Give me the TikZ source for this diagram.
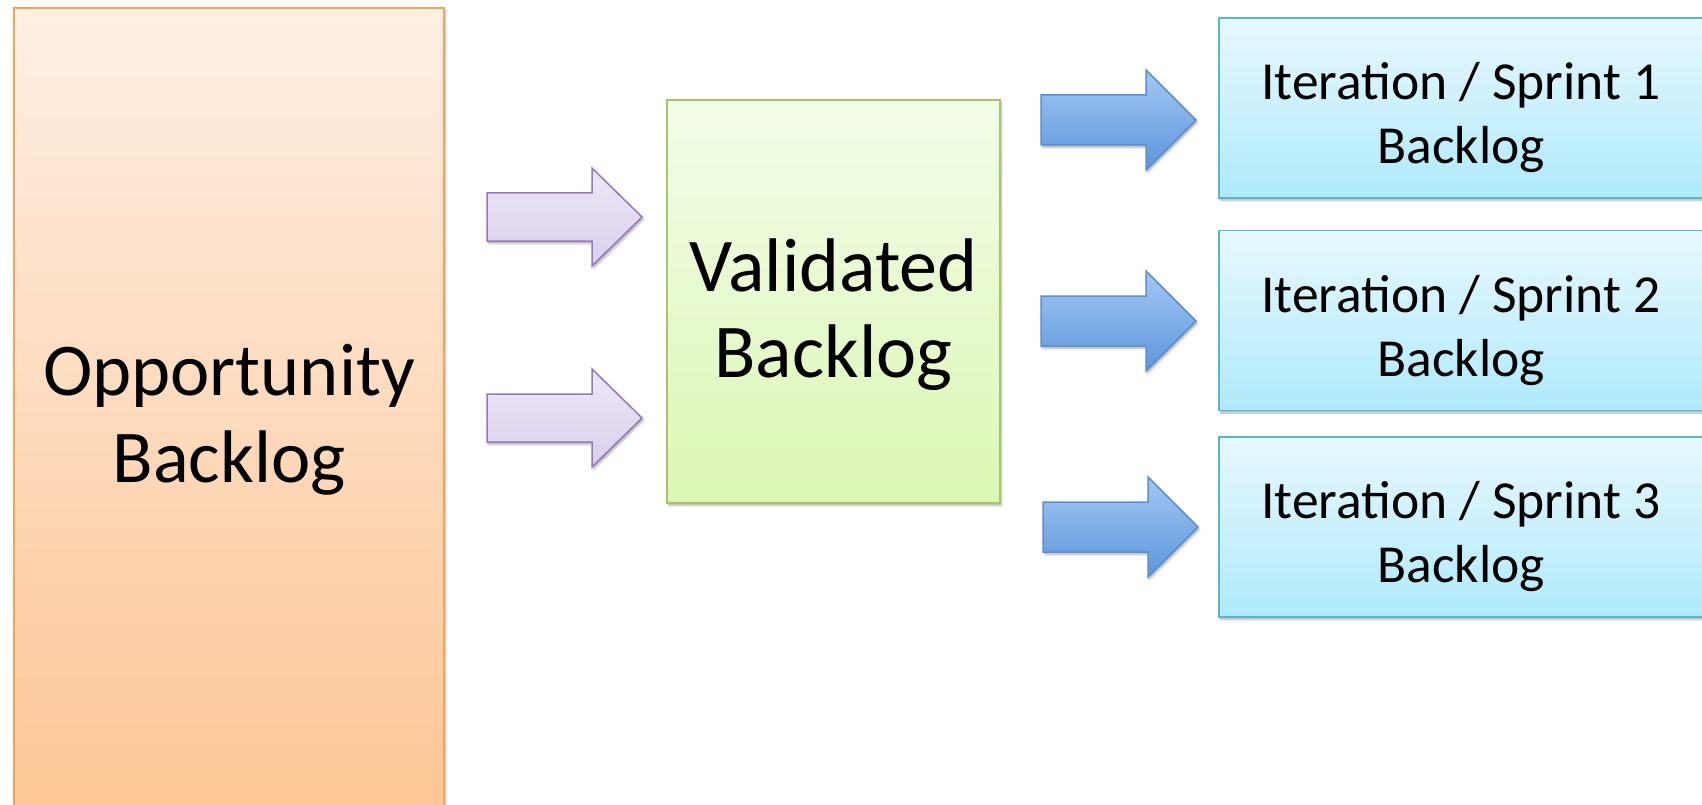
\documentclass[tikz,border=0pt]{standalone}
\usepackage{fontspec}
\setmainfont{Carlito}
\usetikzlibrary{calc,shadows.blur}

\definecolor{oppTop}{HTML}{FEEFE4}
\definecolor{oppBot}{HTML}{FDC593}
\definecolor{oppLine}{HTML}{F7A255}
\definecolor{valTop}{HTML}{F3FCEA}
\definecolor{valBot}{HTML}{DCF7B3}
\definecolor{valLine}{HTML}{A3C764}
\definecolor{itTop}{HTML}{E7F8FE}
\definecolor{itBot}{HTML}{AFEAFA}
\definecolor{itLine}{HTML}{55B6CF}
\definecolor{purTop}{HTML}{ECE7F6}
\definecolor{purBot}{HTML}{D9D0EB}
\definecolor{purLine}{HTML}{9577BE}
\definecolor{bluTop}{HTML}{A3C8F4}
\definecolor{bluBot}{HTML}{5B96DA}
\definecolor{bluLine}{HTML}{5B8FD1}

\tikzset{
  softshadow/.style={blur shadow={shadow xshift=1.5pt, shadow yshift=-2.5pt,
      shadow blur steps=6, shadow opacity=30, shadow blur extra rounding=0pt}},
  backlog/.style={rectangle, draw, line width=1.5pt, inner sep=0pt, softshadow},
  boxtext/.style={align=center, inner sep=0pt, text=black},
  oppbox/.style={backlog, draw=oppLine, top color=oppTop, bottom color=oppBot,
      minimum width=430pt, minimum height=824pt},
  valbox/.style={backlog, draw=valLine, top color=valTop, bottom color=valBot,
      minimum width=333pt, minimum height=403pt},
  itbox/.style={backlog, draw=itLine, top color=itTop, bottom color=itBot,
      minimum width=484pt, minimum height=180pt},
  opptext/.style={boxtext, font=\fontsize{74.5}{87}\selectfont},
  valtext/.style={boxtext, font=\fontsize{76}{86}\selectfont, yshift=-13pt},
  ittext/.style={boxtext, font=\fontsize{53.5}{64}\selectfont, yshift=-10pt},
  purarrow/.style={draw=purLine, line width=1.5pt, line join=miter,
      top color=purTop, bottom color=purBot, softshadow},
  bluarrow/.style={draw=bluLine, line width=1.5pt, line join=miter,
      top color=bluTop, bottom color=bluBot, softshadow}
}

% block arrow from a tail point to a tip point:
% #1 style, #2 tail, #3 tip, #4 half shaft width, #5 half head width, #6 head length
\newcommand\blockarrow[6]{%
  \path[#1] ($(#2)+(0,-#4)$) -- ($(#3)+(-#6,-#4)$) -- ($(#3)+(-#6,-#5)$)
    -- (#3) -- ($(#3)+(-#6,#5)$) -- ($(#3)+(-#6,#4)$) -- ($(#2)+(0,#4)$) -- cycle;}

\begin{document}
\begin{tikzpicture}[x=1pt,y=-1pt]
\useasboundingbox (0,0) rectangle (1702,805);
\clip (0,0) rectangle (1702,805);

% backlog boxes, each with its caption
\node[oppbox, label={[opptext, name=oppT]center:Opportunity\\Backlog}] (opp) at (229,420) {};
\node[valbox, label={[valtext, name=valT]center:Validated\\Backlog}] (val) at (833.5,301.5) {};
\node[itbox, label={[ittext, name=it1T]center:Iteration / Sprint 1\\Backlog}] (it1) at (1461,108) {};
\node[itbox, label={[ittext, name=it2T]center:Iteration / Sprint 2\\Backlog}] (it2) at (1461,320.5) {};
\node[itbox, label={[ittext, name=it3T]center:Iteration / Sprint 3\\Backlog}] (it3) at (1461,527) {};

% arrow ends between the boxes
\coordinate (oppA) at (487,217);   \coordinate (valA) at (642,217);
\coordinate (oppB) at (487,418);   \coordinate (valB) at (642,418);
\coordinate (valC) at (1041,120);  \coordinate (itA) at (1196,120);
\coordinate (valD) at (1041,321);  \coordinate (itB) at (1196,321);
\coordinate (valE) at (1043,527);  \coordinate (itC) at (1198,527);

% opportunity -> validated
\blockarrow{purarrow}{oppA}{valA}{24}{49}{50}
\blockarrow{purarrow}{oppB}{valB}{24}{49}{50}

% validated -> sprint backlogs
\blockarrow{bluarrow}{valC}{itA}{25}{50}{50}
\blockarrow{bluarrow}{valD}{itB}{25}{50}{50}
\blockarrow{bluarrow}{valE}{itC}{25}{50}{50}
\end{tikzpicture}
\end{document}
